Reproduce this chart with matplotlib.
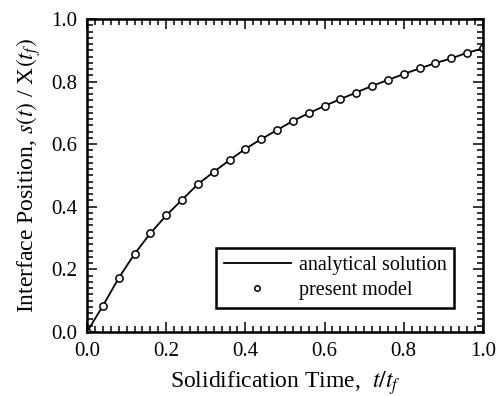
import matplotlib
matplotlib.use("Agg")
import matplotlib.pyplot as plt
from matplotlib.ticker import MultipleLocator

plt.rcParams['font.family'] = ['Liberation Serif', 'DejaVu Serif']
plt.rcParams['mathtext.fontset'] = 'stix'

t_model = [0.00, 0.04, 0.08, 0.12, 0.16, 0.20, 0.24, 0.28, 0.32, 0.36, 0.40,
           0.44, 0.48, 0.52, 0.56, 0.60, 0.64, 0.68, 0.72, 0.76, 0.80,
           0.84, 0.88, 0.92, 0.96, 1.00]
s_model = [0.000, 0.083, 0.172, 0.249, 0.315, 0.372, 0.422, 0.472, 0.511, 0.549, 0.585,
           0.616, 0.645, 0.674, 0.699, 0.722, 0.744, 0.765, 0.786, 0.805, 0.824,
           0.842, 0.859, 0.874, 0.892, 0.906]
t_analytic = t_model
s_analytic = s_model

x_ticks = [0.0, 0.2, 0.4, 0.6, 0.8, 1.0]
y_ticks = [0.0, 0.2, 0.4, 0.6, 0.8, 1.0]

fig = plt.figure(figsize=(5.03, 3.96), dpi=100)
ax = fig.add_axes([0.173, 0.162, 0.787, 0.790])

ax.plot(t_analytic, s_analytic, color='black', lw=1.3, label='analytical solution')
ax.plot(t_model, s_model, linestyle='none', marker='o', markersize=5.2,
        markerfacecolor='white', markeredgecolor='black', markeredgewidth=1.1,
        label='present model')

ax.set_xlim(0, 1)
ax.set_ylim(0, 1)
ax.set_xticks(x_ticks)
ax.set_yticks(y_ticks)
ax.set_xticklabels([f"{v:.1f}" for v in x_ticks])
ax.set_yticklabels([f"{v:.1f}" for v in y_ticks])
ax.xaxis.set_minor_locator(MultipleLocator(0.02))
ax.yaxis.set_minor_locator(MultipleLocator(0.02))
ax.tick_params(which='both', direction='in', top=True, right=True, colors='black',
               labelsize=15, width=1.1)
ax.tick_params(which='major', length=7)
ax.tick_params(axis='x', which='major', pad=7)
ax.tick_params(axis='y', which='major', pad=7)
ax.tick_params(which='minor', length=4)
for sp in ax.spines.values():
    sp.set_linewidth(1.8)

ax.set_xlabel(r'Solidification Time,  $t/t_f$', fontsize=17, labelpad=6)
ax.set_ylabel(r'Interface Position, $s(t)$ / X$(t_f)$', fontsize=17, labelpad=6)

leg = ax.legend(loc='lower right', bbox_to_anchor=(0.928, 0.075), fontsize=14.5,
                frameon=True, fancybox=False, edgecolor='black', framealpha=1,
                handlelength=3.3, handletextpad=0.4, borderpad=0.4, labelspacing=0.3,
                borderaxespad=0.0, markerscale=0.75)
leg.get_frame().set_linewidth(1.8)

fig.savefig('out.png', dpi=100)
